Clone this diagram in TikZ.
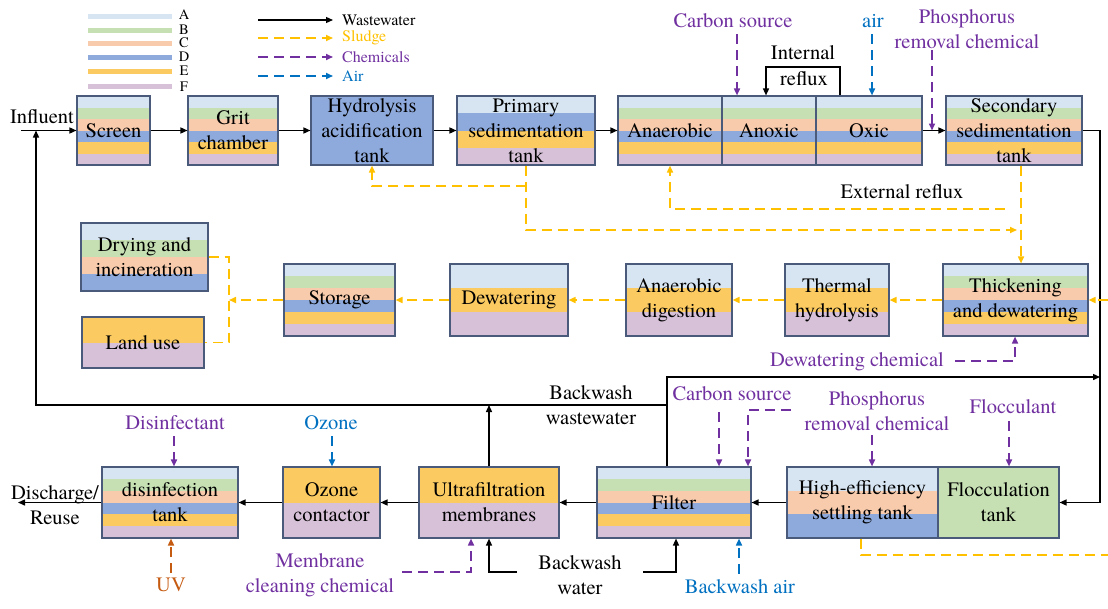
\documentclass[tikz,border=0pt]{standalone}
\usepackage{fontspec}
\setmainfont{texgyretermes}[Extension=.otf,UprightFont=*-regular,BoldFont=*-bold,ItalicFont=*-italic,BoldItalicFont=*-bolditalic]
\usetikzlibrary{arrows.meta,calc}
\definecolor{cA}{HTML}{D7E5F2}
\definecolor{cB}{HTML}{C6E0B4}
\definecolor{cC}{HTML}{F8CBAD}
\definecolor{cD}{HTML}{8EA9DB}
\definecolor{cE}{HTML}{FBCB62}
\definecolor{cF}{HTML}{D7C1D8}
\definecolor{boxline}{HTML}{4A5A7A}
\definecolor{sludge}{HTML}{FFC000}
\definecolor{chem}{HTML}{7030A0}
\definecolor{airc}{HTML}{0070C0}
\definecolor{uvc}{HTML}{C55A11}
\tikzset{
  boxframe/.style={draw=boxline, line width=1.1pt, inner sep=0pt, align=center, font=\fontsize{20.5}{25}\selectfont},
  tip/.style={-{Triangle[length=7pt,width=6pt]}},
  ww/.style={draw=black, line width=1.4pt, tip},
  dsh/.style={line width=1.6pt, dash pattern=on 10pt off 6pt},
  sl/.style={draw=sludge, dsh, tip},
  sln/.style={draw=sludge, dsh},
  ch/.style={draw=chem, dsh, tip},
  ai/.style={draw=airc, dsh, tip},
  uvs/.style={draw=uvc, dsh, tip},
  lbl/.style={inner sep=0pt, align=center, font=\fontsize{20.5}{25}\selectfont},
  lblc/.style={lbl, text=chem},
  lbla/.style={lbl, text=airc},
  lbluv/.style={lbl, text=uvc},
  leg/.style={inner sep=0pt, font=\fontsize{16}{18}\selectfont},
  legl/.style={inner sep=0pt, font=\fontsize{14.5}{15}\selectfont},
}
\newcommand{\bandbox}[8]{%
  \foreach \bcol [count=\bi from 0] in {#7}{
    \fill[\bcol] (#2,{#3+(#5-#3)*\bi/#6}) rectangle (#4,{#3+(#5-#3)*(\bi+1)/#6});
  }
  \node[boxframe, minimum width={(#4-#2)*1pt}, minimum height={(#5-#3)*1pt}] (#1) at ({(#2+#4)/2},{(#3+#5)/2}) {#8};
}
\begin{document}
\begin{tikzpicture}[x=1pt,y=-1pt]
\useasboundingbox (0,0) rectangle (1108,608);
% ---------- legend ----------
\draw[cA, line width=5pt] (88,16) -- (172,16);
\draw[cB, line width=5pt] (88,30) -- (172,30);
\draw[cC, line width=5pt] (88,43) -- (172,43);
\draw[cD, line width=5pt] (88,57) -- (172,57);
\draw[cE, line width=5pt] (88,71) -- (172,71);
\draw[cF, line width=5pt] (88,86) -- (172,86);
\node[legl] (lA) at (184,15) {A};
\node[legl] (lB) at (184,30) {B};
\node[legl] (lC) at (184,43) {C};
\node[legl] (lD) at (184,57) {D};
\node[legl] (lE) at (184,71) {E};
\node[legl] (lF) at (184,87) {F};
\coordinate (lw1) at (258,20); \coordinate (lw2) at (333,20);
\coordinate (ls1) at (258,38); \coordinate (ls2) at (333,38);
\coordinate (lc1) at (258,57); \coordinate (lc2) at (333,57);
\coordinate (la1) at (258,76); \coordinate (la2) at (333,76);
\draw[ww, line width=1.2pt] (lw1) -- (lw2);
\draw[sl] (ls1) -- (ls2);
\draw[ch] (lc1) -- (lc2);
\draw[ai] (la1) -- (la2);
\node[leg, anchor=west] (lwt) at (342,20) {Wastewater};
\node[leg, anchor=west, text=sludge] (lst) at (342,38) {Sludge};
\node[leg, anchor=west, text=chem] (lct) at (342,57) {Chemicals};
\node[leg, anchor=west, text=airc] (lat) at (342,76) {Air};
% ---------- row 1 ----------
\bandbox{screen}{77}{96}{150}{165}{6}{cA,cB,cC,cD,cE,cF}{Screen}
\bandbox{grit}{188}{96}{278}{165}{6}{cA,cB,cC,cD,cE,cF}{Grit\\chamber}
\bandbox{hydro}{311}{96}{433}{165}{1}{cD}{Hydrolysis\\acidification\\tank}
\bandbox{prim}{457}{96}{595}{165}{4}{cA,cD,cE,cF}{Primary\\sedimentation\\tank}
\bandbox{anaer}{618}{96}{722}{165}{6}{cA,cB,cC,cD,cE,cF}{Anaerobic}
\bandbox{anox}{722}{96}{816}{165}{6}{cA,cB,cC,cD,cE,cF}{Anoxic}
\bandbox{oxic}{816}{96}{922}{165}{6}{cA,cB,cC,cD,cE,cF}{Oxic}
\bandbox{sec}{946}{96}{1082}{165}{6}{cA,cB,cC,cD,cE,cF}{Secondary\\sedimentation\\tank}
% ---------- row 2 ----------
\bandbox{dry}{81}{223}{208}{291}{4}{cA,cB,cC,cD}{Drying and\\incineration}
\bandbox{land}{82}{317}{204}{368}{2}{cE,cF}{Land use}
\bandbox{stor}{284}{264}{395}{336}{6}{cA,cB,cC,cD,cE,cF}{Storage}
\bandbox{dew}{450}{264}{568}{336}{3}{cA,cE,cF}{Dewatering}
\bandbox{ad}{626}{264}{732}{336}{3}{cA,cE,cF}{Anaerobic\\digestion}
\bandbox{th}{785}{264}{889}{336}{3}{cA,cE,cF}{Thermal\\hydrolysis}
\bandbox{thick}{943}{264}{1088}{336}{6}{cA,cB,cC,cD,cE,cF}{Thickening\\and dewatering}
% ---------- row 3 ----------
\bandbox{dis}{102}{467}{238}{538}{6}{cA,cB,cC,cD,cE,cF}{disinfection\\tank}
\bandbox{oz}{283}{467}{380}{538}{2}{cE,cF}{Ozone\\contactor}
\bandbox{uf}{419}{467}{559}{538}{2}{cE,cF}{Ultrafiltration\\membranes}
\bandbox{fil}{597}{467}{751}{538}{6}{cA,cB,cC,cD,cE,cF}{Filter}
\bandbox{he}{787}{467}{938}{538}{3}{cA,cC,cD}{High-efficiency\\settling tank}
\bandbox{floc}{938}{467}{1059}{538}{1}{cB}{Flocculation\\tank}
% ---------- row 1 connectors ----------
\node[lbl] (infl) at (42,117) {Influent};
\coordinate (inf) at (21,130.5);
\draw[ww] (inf) -- (screen.west);
\draw[ww] (screen.east) -- (grit.west);
\draw[ww] (grit.east) -- (hydro.west);
\draw[ww] (hydro.east) -- (prim.west);
\draw[ww] (prim.east) -- (anaer.west);
\draw[ww] (oxic.east) -- (sec.west);
\coordinate (ir1) at (840,67); \coordinate (ir2) at (766,67);
\draw[ww] (oxic.north -| ir1) -- (ir1) -- (ir2) -- (anox.north -| ir2);
\node[lbl] (intl) at (803,53) {Internal};
\node[lbl] (refl) at (804,79) {reflux};
\node[lblc] (cs1) at (733,21) {Carbon source};
\coordinate (cs1a) at (737,34);
\draw[ch] (cs1a) -- (anox.north -| cs1a);
\node[lbla] (airl) at (873,21) {air};
\coordinate (air1) at (872,34);
\draw[ai] (air1) -- (oxic.north -| air1);
\node[lblc] (p1) at (967,29.5) {Phosphorus\\removal chemical};
\coordinate (p1a) at (932,50);
\draw[ch] (p1a) -- (p1a |- sec.west);
% sludge row 1
\coordinate (ps1) at (526,186); \coordinate (ps2) at (526,230); \coordinate (ps3) at (1017,230);
\draw[sl] (prim.south -| ps1) -- (ps2) -- (ps3);
\coordinate (hs) at (372,186);
\draw[sl] (ps1) -- (hs) -- (hydro.south -| hs);
\coordinate (er1) at (1005,209); \coordinate (er2) at (670,209);
\draw[sl] (er1) -- (er2) -- (anaer.south -| er2);
\node[lbl] (erl) at (902,192) {External reflux};
\coordinate (st) at (1021,200);
\draw[sl] (sec.south -| st) -- (thick.north -| st);
% right wastewater line
\coordinate (rv) at (1100,300);
\draw[ww] (sec.east) -- (sec.east -| rv) -- (floc.east -| rv) -- (floc.east);
% ---------- row 2 connectors ----------
\draw[sl] (thick.west) -- (th.east);
\draw[sl] (th.west) -- (ad.east);
\draw[sl] (ad.west) -- (dew.east);
\draw[sl] (dew.west) -- (stor.east);
\coordinate (dl) at (229,300);
\draw[sl] (stor.west) -- (dl);
\draw[sln] (dry.east) -| (dl) |- (land.east);
\coordinate (tr) at (1108,300);
\draw[sl] (tr) -- (thick.east);
\node[lblc] (dwc) at (857,362) {Dewatering chemical};
\coordinate (dw1) at (955,361); \coordinate (dw2) at (1015,361);
\draw[ch] (dw1) -- (dw2) -- (thick.south -| dw2);
% ---------- row 3 connectors ----------
\coordinate (bwj) at (667,405); \coordinate (bwt) at (667,377);
\draw[ww] (fil.north -| bwj) -- (bwt) -- (bwt -| rv);
\coordinate (rl) at (36,405);
\draw[ww] (bwj) -- (rl) -- (inf -| rl);
\coordinate (ufx) at (489,450);
\draw[ww] (uf.north -| ufx) -- (bwj -| ufx);
\node[lbl] (bwwl) at (591,405) {Backwash\\wastewater};
\draw[ww] (he.west) -- (fil.east);
\draw[ww] (fil.west) -- (uf.east);
\draw[ww] (uf.west) -- (oz.east);
\draw[ww] (oz.west) -- (dis.east);
\coordinate (out) at (18,502.5);
\draw[ww] (dis.west) -- (out);
\node[lbl] (outl) at (55,505) {Discharge/\\Reuse};
\node[lblc] (disl) at (175,423) {Disinfectant};
\coordinate (d1) at (174,436);
\draw[ch] (d1) -- (dis.north -| d1);
\node[lbluv] (uvl) at (171,585) {UV};
\coordinate (uv1) at (171,573);
\draw[uvs] (uv1) -- (dis.south -| uv1);
\node[lbla] (ozl) at (331,423) {Ozone};
\coordinate (o1) at (332,436);
\draw[ai] (o1) -- (oz.north -| o1);
\node[lblc] (meml) at (320,575) {Membrane\\cleaning chemical};
\coordinate (m1) at (402,572); \coordinate (m2) at (471,572);
\draw[ch] (m1) -- (m2) -- (uf.south -| m2);
\node[lbl] (bwl) at (580,575) {Backwash\\water};
\coordinate (bw1) at (517,572); \coordinate (bw2) at (489,572);
\draw[ww] (bw1) -- (bw2) -- (uf.south -| bw2);
\coordinate (bw3) at (643,572); \coordinate (bw4) at (676,572);
\draw[ww] (bw3) -- (bw4) -- (fil.south -| bw4);
\node[lbla] (bal) at (740,587) {Backwash air};
\coordinate (ba1) at (739,574);
\draw[ai] (ba1) -- (fil.south -| ba1);
\node[lblc] (cs2) at (732,394) {Carbon source};
\coordinate (c2) at (719,412);
\draw[ch] (c2) -- (fil.north -| c2);
\coordinate (c3) at (791,410); \coordinate (c4) at (748,410);
\draw[ch] (c3) -- (c4) -- (fil.north -| c4);
\node[lblc] (p2) at (877,411) {Phosphorus\\removal chemical};
\coordinate (p2a) at (872,435);
\draw[ch] (p2a) -- (he.north -| p2a);
\node[lblc] (fl) at (1013,407) {Flocculant};
\coordinate (f1) at (1009,421);
\draw[ch] (f1) -- (floc.north -| f1);
\coordinate (hs1) at (861,555); \coordinate (hs2) at (1108,555);
\draw[sln] (he.south -| hs1) -- (hs1) -- (hs2);
\end{tikzpicture}
\end{document}
